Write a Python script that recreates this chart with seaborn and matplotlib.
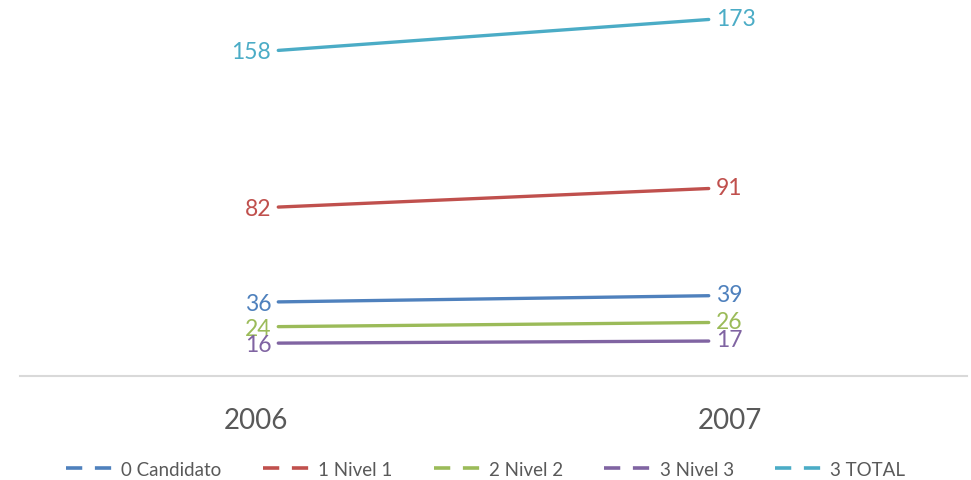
"""
Candidatos por nivel, 2006-2007
"""

import pandas as pd
import matplotlib.pyplot as plt
import seaborn as sns
from matplotlib.lines import Line2D

years = ['2006', '2007']
series_names = ['0 Candidato', '1 Nivel 1', '2 Nivel 2', '3 Nivel 3', '3 TOTAL']
candidato = [36, 39]
nivel_1 = [82, 91]
nivel_2 = [24, 26]
nivel_3 = [16, 17]
total = [158, 173]

colors = ['#4F81BD', '#C0504D', '#9BBB59', '#8064A2', '#4BACC6']

# long-form table for seaborn
rows = []
for name, vals in zip(series_names, [candidato, nivel_1, nivel_2, nivel_3, total]):
    for yr, v in zip(years, vals):
        rows.append({'year': yr, 'serie': name, 'value': v})
df = pd.DataFrame(rows)

sns.set_style('white')
plt.rcParams['font.family'] = ['Lato', 'DejaVu Sans']

fig = plt.figure(figsize=(9.71, 4.81), dpi=100)
ax = fig.add_axes([20 / 971, 0.216, 947 / 971, 0.78])

sns.lineplot(data=df, x='year', y='value', hue='serie', palette=colors,
             linewidth=2.4, ax=ax, legend=False, sort=False)

# data labels: left of first point, right of last point
for name, col in zip(series_names, colors):
    sub = df[df['serie'] == name]
    v0, v1 = sub['value'].iloc[0], sub['value'].iloc[1]
    ax.annotate(str(v0), (0, v0), xytext=(-5, -1), textcoords='offset points',
                ha='right', va='center', fontsize=16.5, color=col)
    ax.annotate(str(v1), (1, v1), xytext=(5, 1), textcoords='offset points',
                ha='left', va='center', fontsize=16.5, color=col)

ax.set_xlim(-0.6, 1.6)
ax.set_ylim(0, 182)
ax.set_xticks([-0.051, 1.049])
ax.set_xticklabels(years)
ax.tick_params(axis='x', length=0, pad=22, labelsize=20, labelcolor='#595959')
ax.set_yticks([])
ax.set_xlabel('')
ax.set_ylabel('')
for side in ['top', 'left', 'right']:
    ax.spines[side].set_visible(False)
ax.spines['bottom'].set_color('#D9D9D9')
ax.spines['bottom'].set_linewidth(1.5)

handles = [Line2D([], [], color=c, lw=2.6, dashes=(4.5, 3.5)) for c in colors]
fig.legend(handles, series_names, loc='lower center', bbox_to_anchor=(0.5, -0.03),
           ncol=5, frameon=False, fontsize=13.5, handlelength=2.9, handletextpad=0.05,
           columnspacing=2.2, labelcolor='#595959')

plt.savefig('out.png', dpi=100)
plt.close()
